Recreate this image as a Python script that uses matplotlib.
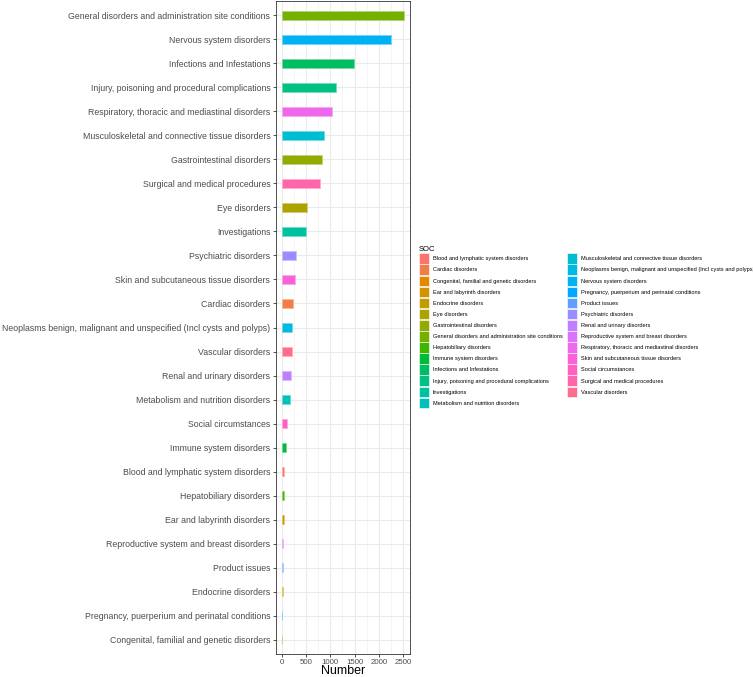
import numpy as np
import matplotlib
matplotlib.use("Agg")
from matplotlib import pyplot as plt
from matplotlib.patches import Patch

plt.rcParams['font.family'] = ['Liberation Sans', 'DejaVu Sans']

# SOC levels (alphabetical, as in the legend)
soc = [
    "Blood and lymphatic system disorders",
    "Cardiac disorders",
    "Congenital, familial and genetic disorders",
    "Ear and labyrinth disorders",
    "Endocrine disorders",
    "Eye disorders",
    "Gastrointestinal disorders",
    "General disorders and administration site conditions",
    "Hepatobiliary disorders",
    "Immune system disorders",
    "Infections and Infestations",
    "Injury, poisoning and procedural complications",
    "Investigations",
    "Metabolism and nutrition disorders",
    "Musculoskeletal and connective tissue disorders",
    "Neoplasms benign, malignant and unspecified (Incl cysts and polyps)",
    "Nervous system disorders",
    "Pregnancy, puerperium and perinatal conditions",
    "Product issues",
    "Psychiatric disorders",
    "Renal and urinary disorders",
    "Reproductive system and breast disorders",
    "Respiratory, thoracic and mediastinal disorders",
    "Skin and subcutaneous tissue disorders",
    "Social circumstances",
    "Surgical and medical procedures",
    "Vascular disorders",
]
number = [55, 238, 3, 45, 35, 517, 830, 2516, 50, 88, 1496, 1116, 497, 163,
          871, 218, 2259, 8, 35, 286, 190, 35, 1047, 272, 109, 796, 211]


def hcl_color(h, c=100, l=65):
    # polar LUV -> sRGB, like R's hcl()
    h = np.deg2rad(h)
    u = c * np.cos(h)
    v = c * np.sin(h)
    xn, yn, zn = 95.047, 100.0, 108.883
    y = yn * (((l + 16) / 116) ** 3 if l > 8 else l / 903.3)
    un = 4 * xn / (xn + 15 * yn + 3 * zn)
    vn = 9 * yn / (xn + 15 * yn + 3 * zn)
    up = u / (13 * l) + un
    vp = v / (13 * l) + vn
    x = y * 9 * up / (4 * vp)
    z = y * (12 - 3 * up - 20 * vp) / (4 * vp)
    x, y, z = x / 100, y / 100, z / 100
    r = 3.240479 * x - 1.537150 * y - 0.498535 * z
    g = -0.969256 * x + 1.875992 * y + 0.041556 * z
    b = 0.055648 * x - 0.204043 * y + 1.057311 * z
    out = []
    for t in (r, g, b):
        t = 12.92 * t if t <= 0.0031308 else 1.055 * t ** (1 / 2.4) - 0.055
        out.append(min(max(t, 0), 1))
    return tuple(out)


n = len(soc)
hues = np.linspace(15, 375 - 360 / n, n)
colors = {s: hcl_color(h) for s, h in zip(soc, hues)}

order = sorted(range(n), key=lambda i: number[i])  # smallest at bottom
ypos = np.arange(1, n + 1)

fig = plt.figure(figsize=(7.53, 6.77), dpi=100)
W, H = 753, 677
ax = fig.add_axes([275.5 / W, (H - 654) / H, (410 - 275.5) / W, (654 - 1) / H])

for yy, i in zip(ypos, order):
    c = colors[soc[i]]
    light = tuple(0.55 * np.array(c) + 0.45)
    ax.barh(yy, number[i], height=0.4, color=c, edgecolor=light, linewidth=0.6, zorder=3)

ax.set_yticks(ypos)
ax.set_yticklabels([soc[i] for i in order])
ax.set_ylim(0.4, n + 0.6)
xmax = max(number)
ax.set_xlim(-0.05 * xmax, 1.05 * xmax)
ax.set_xticks([0, 500, 1000, 1500, 2000, 2500])
ax.set_xticks(np.arange(250, 2500, 500), minor=True)
ax.grid(True, which='major', color='#EBEBEB', lw=0.8, zorder=0)
ax.grid(True, which='minor', axis='x', color='#F2F2F2', lw=0.5, zorder=0)
ax.set_axisbelow(True)
ax.tick_params(axis='both', which='major', labelcolor='#4D4D4D',
               color='#333333', length=2.5, width=0.6)
ax.tick_params(axis='y', labelsize=6.3, pad=1.2)
ax.tick_params(axis='x', labelsize=5.7, pad=0.8)
ax.tick_params(axis='x', which='minor', length=0)
for sp in ax.spines.values():
    sp.set_color('#333333')
    sp.set_linewidth(0.6)
ax.set_xlabel("Number", fontsize=9, color='black', labelpad=-0.5)

handles = [Patch(facecolor=colors[s], edgecolor='white', linewidth=0.4) for s in soc]
leg = fig.legend(handles, soc, loc='upper left', bbox_to_anchor=(416 / W, 1 - 243 / H),
                 ncol=2, fontsize=4.1, title="SOC", title_fontsize=5.5, frameon=False,
                 handlelength=1.75, handleheight=2.5, labelspacing=0.08,
                 handletextpad=0.7, columnspacing=0.8, borderpad=0, alignment='left')

fig.savefig("out.png", dpi=100)
